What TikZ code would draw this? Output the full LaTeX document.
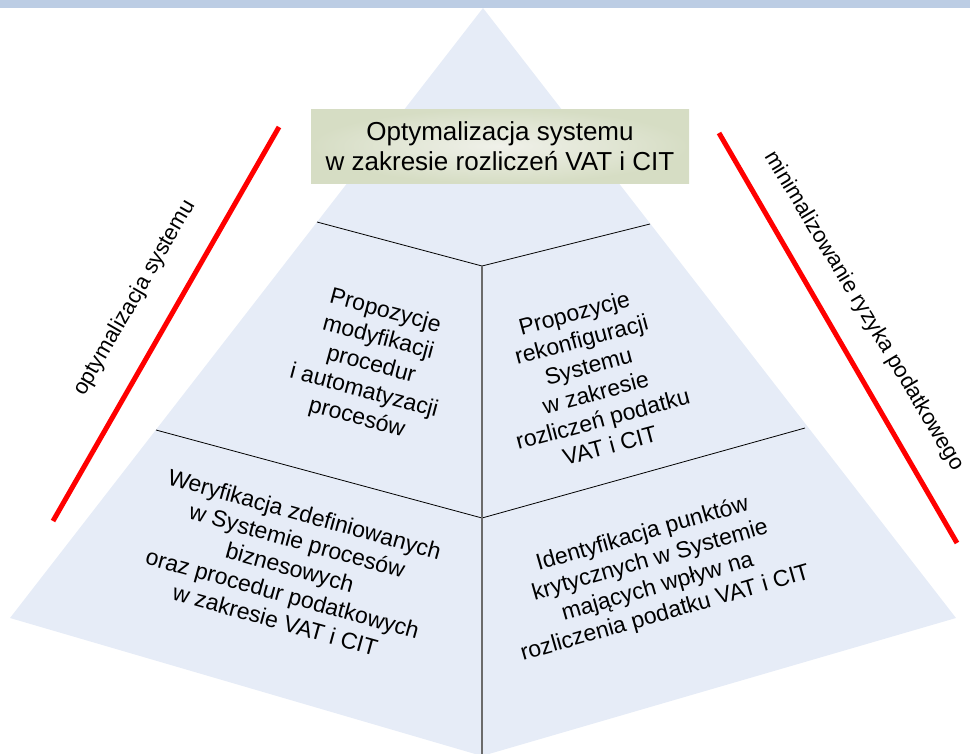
\documentclass[tikz,border=0pt]{standalone}
\usepackage{fontspec}
\setmainfont{Liberation Sans}
\usetikzlibrary{positioning}
\definecolor{Band}{HTML}{BCCDE4}
\definecolor{Face}{HTML}{E6ECF7}
\definecolor{BoxOuter}{HTML}{D6DDC4}
\definecolor{BoxInner}{HTML}{F0F1EA}
\definecolor{Spine}{HTML}{6B6B6B}
\tikzset{facetext/.style={align=center,font=\fontsize{23}{27.5}\selectfont,inner sep=0pt},sidetext/.style={font=\fontsize{22}{26}\selectfont,inner sep=0pt},topbox/.style={shading=radial,inner color=BoxInner,outer color=BoxOuter,minimum width=378pt,minimum height=74pt,align=center,font=\fontsize{26}{30}\selectfont},marker/.style={draw=red,line width=5pt},ridge/.style={draw=black,line width=.8pt},spine/.style={draw=Spine,line width=1.6pt}}

\begin{document}
\begin{tikzpicture}[x=1pt,y=-1pt]
      \useasboundingbox(0,0)rectangle(970,753);
      \clip(0,0)rectangle(970,753);
      % pyramid corners
      \coordinate(apex)at(483,8);\coordinate(left)at(10,618);\coordinate(front)at(482,756);\coordinate(right)at(956,618);
      \fill[Face](apex)--(left)--(front)--(right)--cycle;
      \fill[Band](0,0)rectangle(970,8);
      % tiers
      \coordinate(upL)at(317,222);\coordinate(upM)at(482,266);\coordinate(upR)at(650,224);
      \coordinate(loL)at(156,430);\coordinate(loM)at(482,518);\coordinate(loR)at(805,428);
      \draw[ridge](upL)--(upM)--(upR);\draw[ridge](loL)--(loM)--(loR);
      \draw[spine](upM)--(front);
      \node[topbox](goal)at(500,146){Optymalizacja systemu\\w zakresie rozliczeń VAT i CIT};
      \node[facetext,rotate=-15](procedures)at(371,365){Propozycje\\modyfikacji\\procedur\\i automatyzacji\\procesów};
      \node[facetext,rotate=15](reconfig)at(592,379){Propozycje\\rekonfiguracji\\Systemu\\w zakresie\\rozliczeń podatku\\VAT i CIT};
      \node[facetext,rotate=-15.5](verify)at(290,567){Weryfikacja zdefiniowanych\\w Systemie procesów\\biznesowych\\oraz procedur podatkowych\\w zakresie VAT i CIT};
      \node[facetext,rotate=16](critical)at(654,574){Identyfikacja punktów\\krytycznych w Systemie\\mających wpływ na\\rozliczenia podatku VAT i CIT};
      % side markers
      \coordinate(optA)at(279,127);\coordinate(optB)at(53,521);
      \coordinate(riskA)at(719,133);\coordinate(riskB)at(957,543);
      \draw[marker](optA)--(optB);\draw[marker](riskA)--(riskB);
      \node[sidetext,rotate=60](optlabel)at(135,298){optymalizacja systemu};
      \node[sidetext,rotate=-59](risklabel)at(864,311){minimalizowanie ryzyka podatkowego};
    \end{tikzpicture}
\end{document}
